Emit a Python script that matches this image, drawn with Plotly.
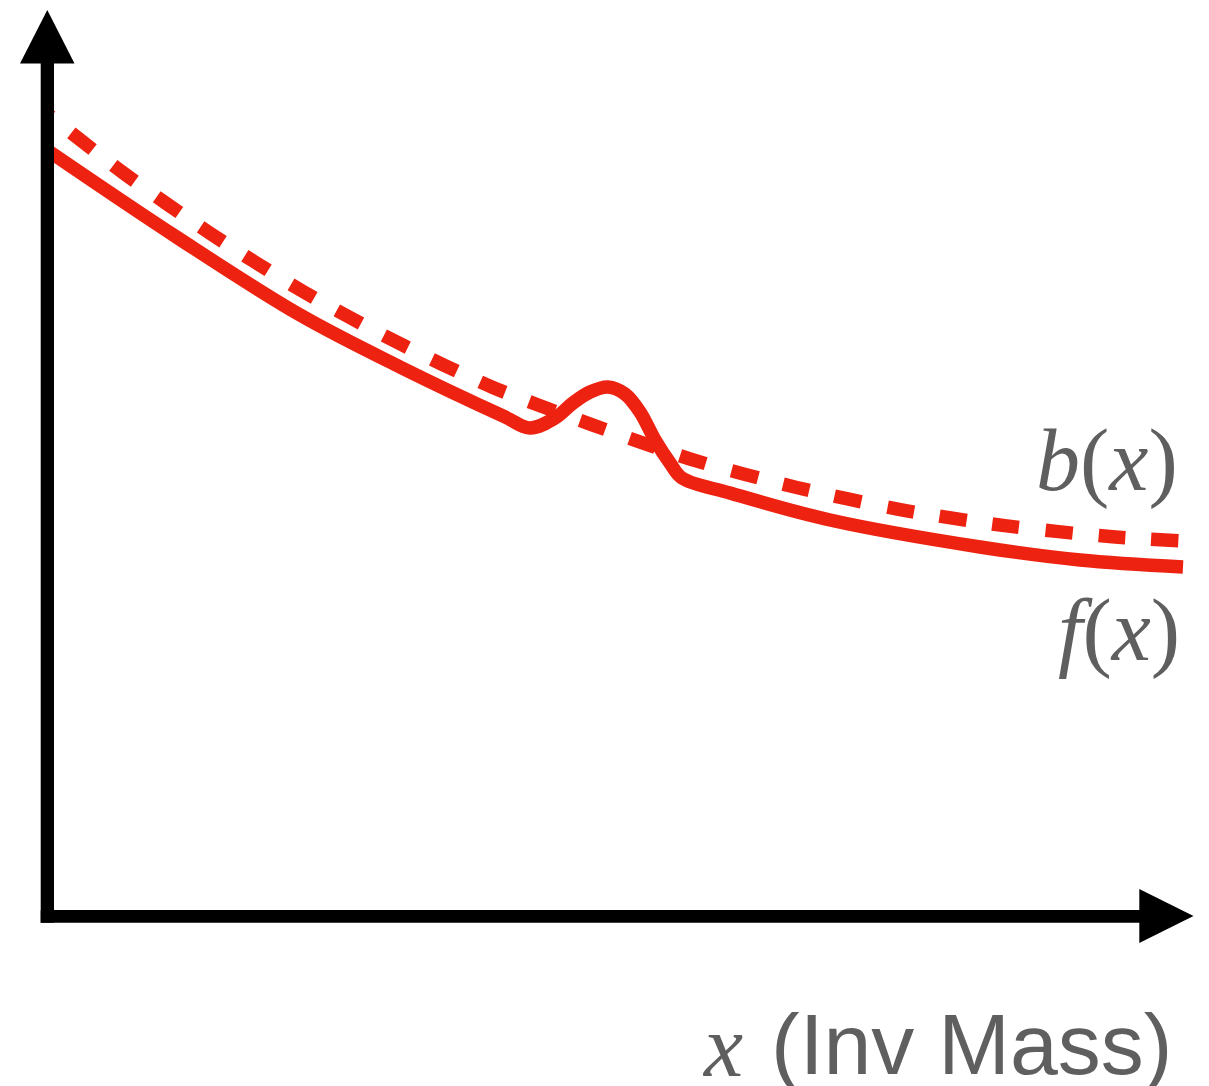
import plotly.graph_objects as go

W, H = 1209, 1086

# Data -> pixel placement of the drawing area (origin sits on the axis corner)
X0_PX, X_SCALE = 47.0, 113.6   # pixel column of x = 0, pixels per x unit
Y0_PX, Y_SCALE = 916.0, 80.0   # pixel row of y = 0, pixels per y unit


def dx(px):
    return (px - X0_PX) / X_SCALE


def dy(py):
    return (Y0_PX - py) / Y_SCALE


# Background-only model b(x)
b_x = [0.0, 0.67, 1.44, 2.25, 3.07, 3.92, 4.80, 5.69, 6.59, 7.51, 8.43, 9.38, 9.96]
b_y = [10.03, 9.29, 8.53, 7.81, 7.18, 6.61, 6.14, 5.70, 5.36, 5.08, 4.88, 4.74, 4.69]

# Signal + background f(x): falling background with a resonance bump near x = 4.9
f_x = [0.000, 1.153, 2.227, 3.107, 4.032, 4.252, 4.472, 4.630, 4.780, 4.938,
       5.088, 5.220, 5.352, 5.484, 5.590, 6.012, 6.893, 8.213, 9.093, 10.0]
f_y = [9.575, 8.475, 7.513, 6.863, 6.238, 6.100, 6.225, 6.413, 6.550, 6.613,
       6.525, 6.300, 5.950, 5.663, 5.475, 5.288, 4.950, 4.613, 4.450, 4.363]

RED = "#ee2210"
GREY = "#5f5f5f"

# dash pattern: short lead-in, then 27px dashes with ~26.3px gaps
pattern = ["5px"]
for i in range(40):
    pattern.append("27px" if i % 3 == 2 else "26px")
    pattern.append("27px")
dash_str = ",".join(pattern)

fig = go.Figure()
fig.add_trace(go.Scatter(x=b_x, y=b_y, mode="lines",
                         line=dict(color=RED, width=13.5, dash=dash_str,
                                   shape="spline", smoothing=0.8),
                         hoverinfo="skip"))
fig.add_trace(go.Scatter(x=f_x, y=f_y, mode="lines",
                         line=dict(color=RED, width=13.5, shape="spline", smoothing=1.0),
                         hoverinfo="skip"))


def rect(px0, py0, px1, py1):
    return dict(type="rect", xref="x", yref="y", layer="above",
                x0=dx(px0), x1=dx(px1), y0=dy(py0), y1=dy(py1),
                fillcolor="black", line=dict(width=0))


def tri(pts):
    path = "M " + " L ".join(f"{dx(a):.4f},{dy(b):.4f}" for a, b in pts) + " Z"
    return dict(type="path", xref="x", yref="y", layer="above", path=path,
                fillcolor="black", line=dict(width=0))


shapes = [
    rect(40.7, 63, 54.0, 922.7),        # vertical axis bar
    rect(40.7, 910, 1140, 922.7),       # horizontal axis bar
    tri([(20, 63.5), (74.5, 63.5), (47.3, 10)]),
    tri([(1139.3, 889), (1139.3, 943), (1193.5, 916)]),
]

serif = dict(family="Liberation Serif", size=88, color=GREY)
sans = dict(family="Liberation Sans", size=86, color=GREY)

annotations = [
    dict(text="<i>b</i>(<i>x</i>)", x=dx(1107), y=dy(460), xref="x", yref="y",
         showarrow=False, xanchor="center", yanchor="middle", font=serif),
    dict(text="<i>f</i>(<i>x</i>)", x=dx(1119), y=dy(630), xref="x", yref="y",
         showarrow=False, xanchor="center", yanchor="middle", font=serif),
    dict(text="<i>x</i>", x=dx(722), y=dy(1046), xref="x", yref="y",
         showarrow=False, xanchor="center", yanchor="middle", font=serif),
    dict(text="(Inv Mass)", x=dx(971), y=dy(1044), xref="x", yref="y",
         showarrow=False, xanchor="center", yanchor="middle", font=sans),
]

fig.update_layout(
    width=W, height=H,
    margin=dict(l=0, r=0, t=0, b=0),
    paper_bgcolor="white", plot_bgcolor="white",
    showlegend=False,
    xaxis=dict(range=[dx(0), dx(W)], visible=False, fixedrange=True),
    yaxis=dict(range=[dy(H), dy(0)], visible=False, fixedrange=True),
    shapes=shapes,
    annotations=annotations,
)

fig.write_html("out.html")
